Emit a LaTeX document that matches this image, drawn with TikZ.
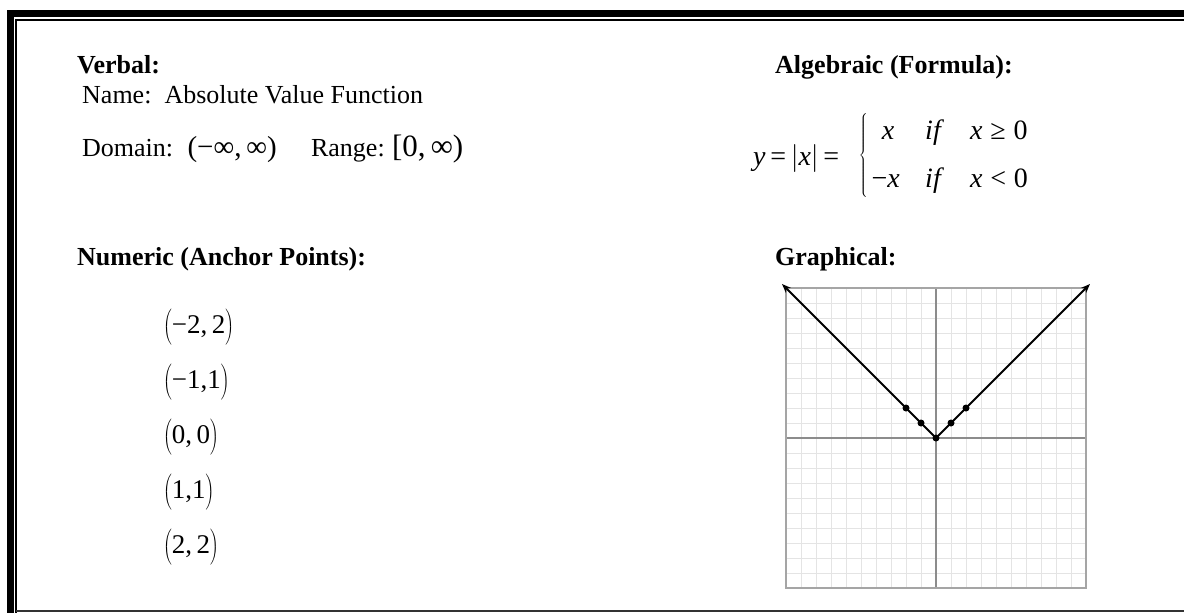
\documentclass[tikz,border=0pt]{standalone}
\usepackage{fix-cm}
\usepackage{fontspec}
\setmainfont{Liberation Serif}
\usetikzlibrary{arrows.meta,positioning}
\definecolor{GridGrey}{RGB}{228,228,228}
\definecolor{AxisGrey}{RGB}{140,140,140}
\definecolor{FrameGrey}{RGB}{165,165,165}
\newcommand{\bodysize}{\fontsize{26}{31}\selectfont}
\newcommand{\mathsize}{\fontsize{28}{33}\selectfont}
\tikzset{
  heading/.style={anchor=base west,inner sep=0pt,font=\bodysize\bfseries},
  bodytext/.style={anchor=base west,inner sep=0pt,font=\bodysize},
  mathtext/.style={anchor=base west,inner sep=0pt,font=\mathsize},
  anchorpt/.style={anchor=west,inner sep=0pt,font=\fontsize{27}{32}\selectfont},
  plotdot/.style={circle,fill=black,inner sep=0pt,minimum size=7pt},
  vline/.style={line width=2pt,-{Stealth[length=9pt,width=7pt]}}
}

\begin{document}
\begin{tikzpicture}[x=1pt,y=-1pt]
  \useasboundingbox (0,0) rectangle (1184,613);
  % double frame
  \fill (7,10) rectangle (1184,17);
  \fill (7,10) rectangle (14,613);
  \draw[line width=2pt] (16,613) |- (1184,20);
  \draw[line width=2pt,black!80] (16,611) -- (1184,611);

  % verbal
  \node[heading] (verbal) at (77,73) {Verbal:};
  \node[bodytext] (name) at (82,103) {Name:\ \ Absolute Value Function};
  \node[bodytext] (domlabel) at (82,156) {Domain:};
  \node[mathtext,font=\fontsize{29}{34}\selectfont] (domval) at ([xshift=14pt]domlabel.base east) {(−∞,\,∞)};
  \node[bodytext] (rangelabel) at ([xshift=34pt]domval.base east) {Range:};
  \node[mathtext,font=\fontsize{31}{36}\selectfont] (rangeval) at ([xshift=7pt]rangelabel.base east) {[0,\,∞)};

  % algebraic
  \node[heading] (algebraic) at (775,73) {Algebraic (Formula):};
  \node[mathtext] (lhs) at (753,165)
    {{\itshape y}\,=\,$\left|\vphantom{\rule[-6pt]{0pt}{26pt}}\mbox{\itshape x}\right|$\,=};
  \node[mathtext,anchor=center] (brace) at (864,155)
    {$\left\{\vcenter{\hrule height 84pt width 0pt}\right.$};
  \node[mathtext,anchor=base] (rowa) at (888,139) {\itshape x};
  \node[mathtext,anchor=base] (ifa) at (933,139) {\itshape if};
  \node[mathtext] (conda) at (970,139) {{\itshape x}\;≥\;0};
  \node[mathtext,anchor=base east] (rowb) at (900,187) {−{\itshape x}};
  \node[mathtext,anchor=base] (ifb) at (933,187) {\itshape if};
  \node[mathtext] (condb) at (970,187) {{\itshape x}\;<\;0};

  % numeric
  \node[heading] (numeric) at (77,265) {Numeric (Anchor Points):};
  \foreach \pt [count=\i] in {{−2,\,2},{−1,1},{0,\,0},{1,1},{2,\,2}}
    \node[anchorpt] (pt\i) at (163,272+55*\i)
      {$\left(\rule[-10pt]{0pt}{32pt}\mbox{\pt}\right)$};

  % graphical
  \node[heading] (graphical) at (775,265) {Graphical:};
  \foreach \g in {0,15,...,300} {
    \draw[GridGrey,line width=1pt] (786+\g,288) -- (786+\g,588);
    \draw[GridGrey,line width=1pt] (786,288+\g) -- (1086,288+\g);
  }
  \draw[AxisGrey,line width=1.3pt] (936,288) -- (936,588);
  \draw[AxisGrey,line width=1.3pt] (786,438) -- (1086,438);
  \draw[FrameGrey,line width=1.6pt] (786,288) rectangle (1086,588);
  \coordinate (vertex) at (936,438);
  \coordinate (leftend) at (782,284);
  \coordinate (rightend) at (1090,284);
  \draw[vline] (vertex) -- (leftend);
  \draw[vline] (vertex) -- (rightend);
  \foreach \xx/\yy [count=\k] in {-2/2,-1/1,0/0,1/1,2/2}
    \node[plotdot] (dot\k) at (936+15*\xx,438-15*\yy) {};
\end{tikzpicture}
\end{document}
